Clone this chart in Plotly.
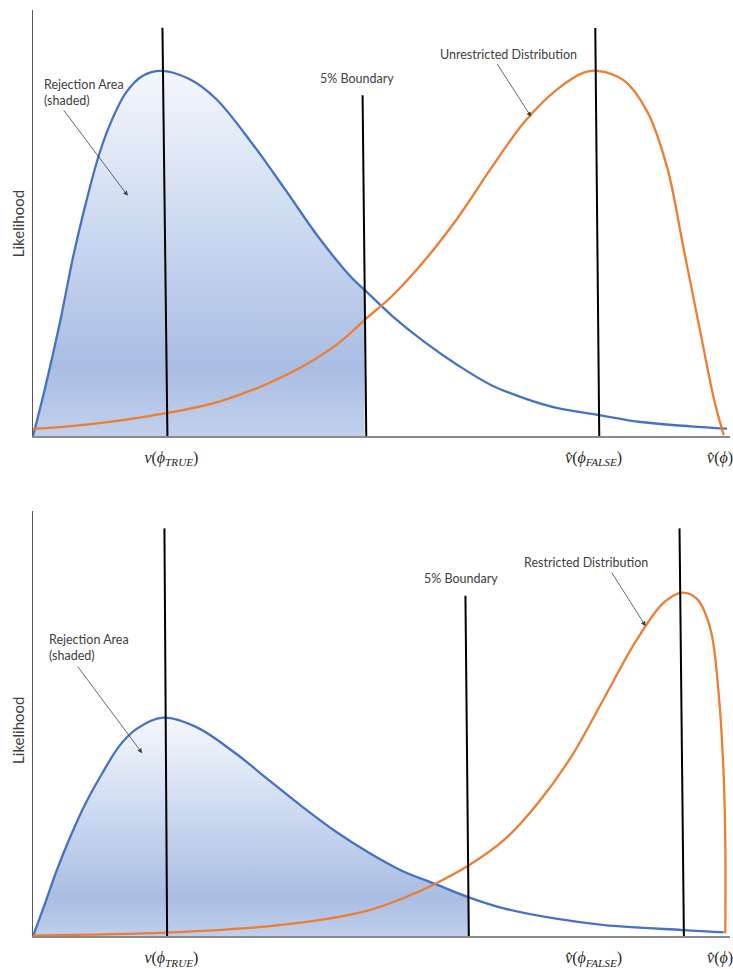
import plotly.graph_objects as go

# ---------------- data ----------------
# Top panel: unrestricted case
top_blue_x = [0, 12, 27, 40.3, 52, 65.3, 77, 93.7, 110.3, 128.7, 157, 183.7, 220.3, 253.7,
              287, 320.3, 333, 360.3, 393.7, 427, 460.3, 493.7, 527, 567, 610.3, 660.3, 697]
top_blue_y = [0, 48.2, 114.8, 181.5, 231.5, 281.5, 314.8, 348.2, 364.8, 369.8, 361.5, 341.5,
              296, 249, 201, 160, 148, 122, 94.8, 71.5, 51.5, 38.2, 28.2, 21.5,
              14.2, 9.8, 7.5]
top_orange_x = [0, 53.7, 133.7, 187, 253.7, 303.7, 333.7, 360.3, 393.7, 427, 460.3, 493.7,
                527, 553.7, 567, 593.7, 617, 637, 653.7, 670.3, 683.7, 693.7]
top_orange_y = [7.2, 11.5, 23.2, 34.8, 61.5, 91.5, 118.2, 141.5, 178.2, 221.5, 271.5, 318.2,
                351.5, 368.2, 369.8, 359.8, 328.2, 271.5, 188.2, 104.8, 38.2, 0.8]
top_boundary = 333
# vertical marker lines: (x at top, x at bottom, top height)
top_vlines_xtop = [130, 331, 564.7]
top_vlines_xbot = [135, 334.7, 568.7]
top_vlines_ytop = [413.5, 345, 413.2]

# Bottom panel: restricted case
bot_blue_x = [0, 12, 23.7, 37, 52, 70.3, 87, 103.7, 130.3, 163.7, 203.7, 237, 270.3,
              303.7, 337, 370.3, 403.7, 437, 473.7, 523.7, 573.7, 652, 693.7]
bot_blue_y = [0, 33, 66.3, 99.7, 133, 166.3, 193, 209.7, 221.3, 212, 185, 158,
              131.3, 106.3, 84.7, 66.3, 53, 39.7, 28, 18, 11.3, 6.3, 4]
bot_orange_x = [0, 133.7, 220.3, 287, 337, 370.3, 403.7, 437, 473.7, 507, 540.3, 573.7, 607,
                633.7, 652, 667, 680.3, 688.7, 693.7, 695.3, 695.3]
bot_orange_y = [0.7, 3.7, 8.7, 16.3, 26.3, 38, 53, 71.3, 98, 134.7, 181.3, 241.3, 301.3,
                338, 348, 341.3, 311.3, 244.7, 161.3, 94.7, 3]
bot_boundary = 437
bot_vlines_xtop = [132, 434.3, 649.3]
bot_vlines_xbot = [134.7, 437.7, 653.7]
bot_vlines_ytop = [413, 344.7, 413]

tick_vals = [139, 563, 690]
tick_text = ["<i>ν</i>(<i>ϕ</i><sub><i>TRUE</i></sub>)",
             "<i>v̂</i>(<i>ϕ</i><sub><i>FALSE</i></sub>)",
             "<i>v̂</i>(<i>ϕ</i>)"]

BLUE = "#4472c4"
ORANGE = "#ed7d31"
TXT = "#404040"
FONT = "Lato"

grad = [[0.0, "#c3d2ed"], [0.2, "#a9bde3"], [0.55, "#c9d7ef"], [1.0, "#f4f7fc"]]

fig = go.Figure()


def add_panel(bx, by, ox, oy, boundary, vxt, vxb, vyt, xa, ya):
    # shaded rejection area under blue curve up to the boundary
    idx = [i for i, v in enumerate(bx) if v <= boundary]
    fx = [bx[i] for i in idx]
    fy = [by[i] for i in idx]
    peak = max(by)
    fig.add_trace(go.Scatter(
        x=fx, y=fy, mode="lines", line=dict(width=0, shape="spline", smoothing=1.0, color=BLUE),
        fill="tozeroy",
        fillgradient=dict(type="vertical", colorscale=grad, start=0, stop=peak),
        xaxis=xa, yaxis=ya, hoverinfo="skip", showlegend=False))
    fig.add_trace(go.Scatter(
        x=bx, y=by, mode="lines", line=dict(color=BLUE, width=2.3, shape="spline", smoothing=1.0),
        xaxis=xa, yaxis=ya, showlegend=False))
    fig.add_trace(go.Scatter(
        x=ox, y=oy, mode="lines", line=dict(color=ORANGE, width=2.3, shape="spline", smoothing=1.0),
        xaxis=xa, yaxis=ya, showlegend=False))
    for xt, xb, yt in zip(vxt, vxb, vyt):
        fig.add_trace(go.Scatter(
            x=[xt, xb], y=[yt, 0], mode="lines", line=dict(color="black", width=2),
            xaxis=xa, yaxis=ya, showlegend=False))


add_panel(top_blue_x, top_blue_y, top_orange_x, top_orange_y, top_boundary,
          top_vlines_xtop, top_vlines_xbot, top_vlines_ytop, "x", "y")
add_panel(bot_blue_x, bot_blue_y, bot_orange_x, bot_orange_y, bot_boundary,
          bot_vlines_xtop, bot_vlines_xbot, bot_vlines_ytop, "x2", "y2")

W = 733
H = 969.0


def dom(top_px, bot_px):
    return [1 - bot_px / H, 1 - top_px / H]


xaxis_common = dict(range=[0, 700], showgrid=False, zeroline=False, showline=True,
                    linecolor="#8a8a8a", linewidth=1.5, ticks="", tickvals=tick_vals,
                    ticktext=tick_text, ticklabelstandoff=6, ticklabeloverflow="allow",
                    tickfont=dict(family="Liberation Serif", size=16, color="#262626"))
yaxis_common = dict(showgrid=False, zeroline=False, showline=True, linecolor="#595959",
                    linewidth=1, showticklabels=False, ticks="")

fig.update_layout(
    width=W, height=int(H),
    margin=dict(l=33, r=0, t=0, b=0),
    paper_bgcolor="white", plot_bgcolor="white",
    showlegend=False,
    xaxis=dict(**xaxis_common, domain=[0, 1], anchor="y"),
    yaxis=dict(**yaxis_common, range=[0, 431.5], domain=dom(10, 441.5), anchor="x"),
    xaxis2=dict(**xaxis_common, domain=[0, 1], anchor="y2"),
    yaxis2=dict(**yaxis_common, range=[0, 431], domain=dom(517, 948), anchor="x2"),
)

ann_font = dict(family=FONT, size=12.5, color=TXT)
anns = []
# top panel texts
anns.append(dict(x=8.7, y=366, xref="x", yref="y", text="Rejection Area<br>(shaded)",
                 showarrow=False, xanchor="left", yanchor="top", align="left", font=ann_font))
anns.append(dict(x=325, y=362.5, xref="x", yref="y", text="5% Boundary", showarrow=False,
                 font=ann_font))
anns.append(dict(x=478, y=386.5, xref="x", yref="y", text="Unrestricted Distribution",
                 showarrow=False, font=ann_font))
anns.append(dict(x=95.3, y=243.2, ax=29.7, ay=331.5, xref="x", yref="y", axref="x", ayref="y",
                 text="", showarrow=True, arrowhead=2, arrowsize=1.2, arrowwidth=0.8,
                 arrowcolor=TXT))
anns.append(dict(x=500.3, y=323.2, ax=465.3, ay=378.2, xref="x", yref="y", axref="x", ayref="y",
                 text="", showarrow=True, arrowhead=2, arrowsize=1.2, arrowwidth=0.8,
                 arrowcolor=TXT))
# bottom panel texts
anns.append(dict(x=13.7, y=310, xref="x2", yref="y2", text="Rejection Area<br>(shaded)",
                 showarrow=False, xanchor="left", yanchor="top", align="left", font=ann_font))
anns.append(dict(x=430, y=362.3, xref="x2", yref="y2", text="5% Boundary", showarrow=False,
                 font=ann_font))
anns.append(dict(x=555, y=378, xref="x2", yref="y2", text="Restricted Distribution",
                 showarrow=False, font=ann_font))
anns.append(dict(x=109.7, y=185.3, ax=43.7, ay=274.7, xref="x2", yref="y2", axref="x2",
                 ayref="y2", text="", showarrow=True, arrowhead=2, arrowsize=1.2,
                 arrowwidth=0.8, arrowcolor=TXT))
anns.append(dict(x=615.3, y=314, ax=580.3, ay=369.7, xref="x2", yref="y2", axref="x2",
                 ayref="y2", text="", showarrow=True, arrowhead=2, arrowsize=1.2,
                 arrowwidth=0.8, arrowcolor=TXT))
# y-axis titles
for ycen in [227, 740]:
    anns.append(dict(x=-15 / 700, y=1 - ycen / H, xref="paper", yref="paper",
                     xanchor="center", yanchor="middle",
                     text="Likelihood", textangle=-90, showarrow=False,
                     font=dict(family=FONT, size=15, color=TXT)))

fig.update_layout(annotations=anns)
fig.write_html(
    "out.html",
    config={"displayModeBar": False},
    post_script="document.body.style.margin='0';document.body.style.overflow='hidden';",
)
